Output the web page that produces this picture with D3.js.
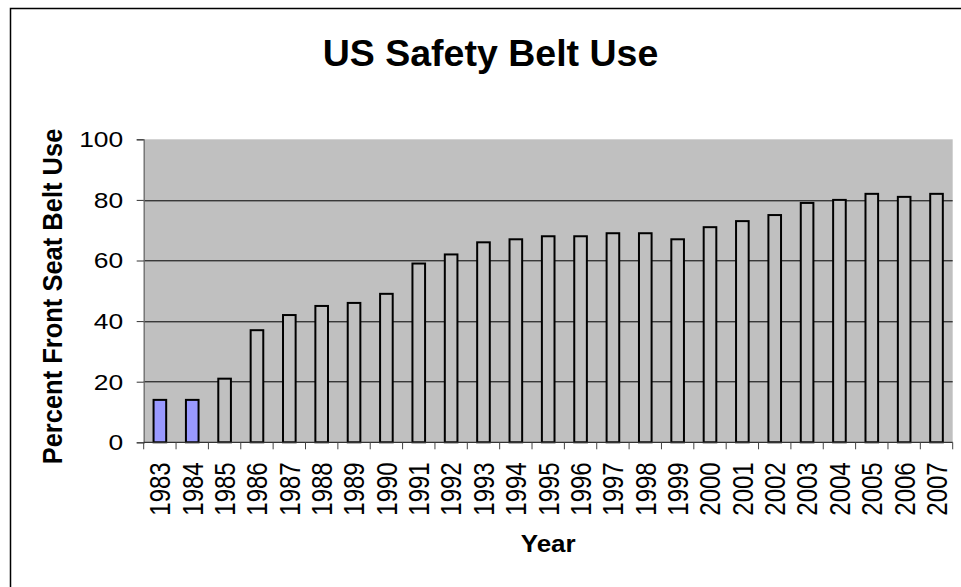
<!DOCTYPE html>
<meta charset="utf-8">
<style>
body { margin: 0; background: #fff; }
text { font-family: Arial, "Liberation Sans", sans-serif; fill: #000; }
.bar { stroke: #000; stroke-width: 2px; }
</style>
<body>
<script src="https://d3js.org/d3.v7.min.js"></script>
<script>

var years = ["1983","1984","1985","1986","1987","1988","1989","1990","1991","1992","1993","1994","1995",
             "1996","1997","1998","1999","2000","2001","2002","2003","2004","2005","2006","2007"];
var beltUse = [14,14,21,37,42,45,46,49,59,62,66,67,68,68,69,69,67,71,73,75,79,80,82,81,82];
var highlightYears = ["1983","1984"];
var yTicks = [0,20,40,60,80,100];

var W = 961, H = 587;
var margin = {top: 139.3, right: 8.3, bottom: 144.7, left: 143.7},
    width = W - margin.left - margin.right,
    height = H - margin.top - margin.bottom;

// the original picture has its small text stretched sideways a bit
var stretch = 1.2;

var svg = d3.select("body").append("svg")
    .attr("width", W)
    .attr("height", H);

// outer chart frame (runs off the right and bottom edge)
svg.append("rect")
    .attr("x", 10.5).attr("y", 8.5)
    .attr("width", 1000).attr("height", 700)
    .attr("fill", "#fff")
    .attr("stroke", "#000")
    .attr("stroke-width", 1.5);

svg.append("text")
    .attr("x", 490.5)
    .attr("y", 66)
    .attr("text-anchor", "middle")
    .style("font-size", "37.5px")
    .style("font-weight", "bold")
    .text("US Safety Belt Use");

var g = svg.append("g")
    .attr("transform", "translate(" + margin.left + "," + margin.top + ")");

var x = d3.scaleBand().domain(years).range([0, width]).paddingInner(0.61).paddingOuter(0.305);
var xTickScale = d3.scaleBand().domain(years).range([0, width]);
var y = d3.scaleLinear().domain([0, 100]).range([height, 0]);

g.append("rect")
    .attr("width", width)
    .attr("height", height)
    .attr("fill", "#c0c0c0");

// gridlines
g.selectAll(".grid")
    .data(yTicks.filter(function(d) { return d > 0 && d < 100; }))
    .enter().append("line")
    .attr("x1", 0).attr("x2", width)
    .attr("y1", function(d) { return Math.round(y(d)) + 0.5; })
    .attr("y2", function(d) { return Math.round(y(d)) + 0.5; })
    .attr("stroke", "#000")
    .attr("stroke-width", 1);

g.selectAll(".bar")
    .data(beltUse)
    .enter().append("rect")
    .attr("class", "bar")
    .attr("x", function(d, i) { return x(years[i]); })
    .attr("y", function(d) { return y(d); })
    .attr("width", x.bandwidth())
    .attr("height", function(d) { return height - y(d); })
    .attr("fill", function(d, i) { return highlightYears.indexOf(years[i]) >= 0 ? "#9999ff" : "#c0c0c0"; });

// y axis (labels drawn separately so they can be stretched)
var yAxis = g.append("g")
    .call(d3.axisLeft(y).tickValues(yTicks).tickSize(7).tickFormat(""));
yAxis.select(".domain").attr("stroke", "#666").attr("stroke-width", 1.2);
yAxis.selectAll(".tick line").attr("stroke", "#333");

g.selectAll(".ylabel")
    .data(yTicks)
    .enter().append("text")
    .attr("transform", function(d) { return "translate(-20.5," + y(d) + ") scale(" + stretch + ",1)"; })
    .attr("text-anchor", "end")
    .attr("dy", "0.36em")
    .style("font-size", "22px")
    .text(function(d) { return d; });

// x axis: ticks between categories, labels rotated
var xAxis = g.append("g")
    .attr("transform", "translate(0," + height + ")");
xAxis.append("line")
    .attr("x1", 0).attr("x2", width)
    .attr("y1", 0).attr("y2", 0)
    .attr("stroke", "#333").attr("stroke-width", 1.2);
xAxis.selectAll(".xtick")
    .data(years.concat(["end"]))
    .enter().append("line")
    .attr("x1", function(d, i) { return i * xTickScale.step(); })
    .attr("x2", function(d, i) { return i * xTickScale.step(); })
    .attr("y1", 0).attr("y2", 7)
    .attr("stroke", "#444");
xAxis.selectAll(".xlabel")
    .data(years)
    .enter().append("text")
    .attr("transform", function(d) {
        return "translate(" + (xTickScale(d) + xTickScale.bandwidth() / 2) + ",20) scale(" + stretch + ",1) rotate(-90)";
    })
    .attr("text-anchor", "end")
    .attr("dy", "0.36em")
    .style("font-size", "24px")
    .text(function(d) { return d; });

svg.append("text")
    .attr("transform", "translate(" + (margin.left + width / 2) + ",552) scale(1.13,1)")
    .attr("text-anchor", "middle")
    .style("font-size", "23px")
    .style("font-weight", "bold")
    .text("Year");

svg.append("text")
    .attr("transform", "translate(62,296.5) scale(1.12,1) rotate(-90)")
    .attr("text-anchor", "middle")
    .style("font-size", "25.5px")
    .style("font-weight", "bold")
    .text("Percent Front Seat Belt Use");

</script>
</body>
